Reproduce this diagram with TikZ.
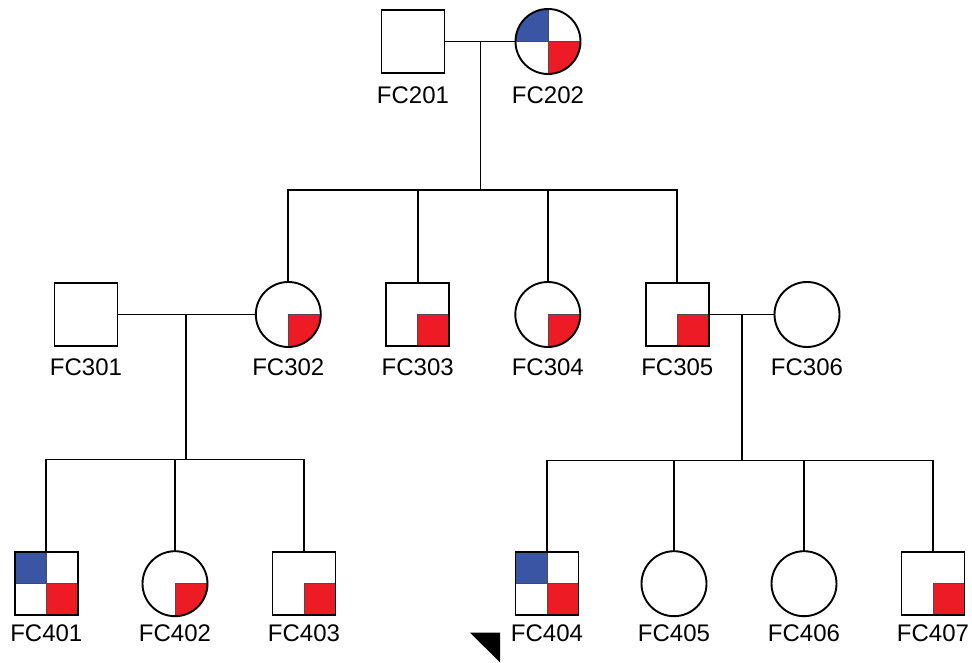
\documentclass[tikz,border=0pt]{standalone}
\usepackage{fontspec}
\setmainfont{Liberation Sans}
\definecolor{qblue}{HTML}{3A55A4}
\definecolor{qred}{HTML}{ED1C24}
\begin{document}
\begin{tikzpicture}[x=1pt,y=1pt,
  lw/.style={line width=1.9pt},
  person/.style={draw, lw, inner sep=0pt, outer sep=0pt, fill=white},
  male/.style={person, rectangle, minimum size=63pt},
  female/.style={person, circle, minimum size=65pt},
  lr/.style={path picture={\filldraw[fill=qred, draw=black!70, line width=0.6pt]
      (path picture bounding box.center) rectangle (path picture bounding box.south east);}},
  lrul/.style={path picture={
      \filldraw[fill=qred, draw=black!70, line width=0.6pt]
      (path picture bounding box.center) rectangle (path picture bounding box.south east);
      \filldraw[fill=qblue, draw=black!70, line width=0.6pt]
      (path picture bounding box.center) rectangle (path picture bounding box.north west);}},
  lbl/.style={anchor=base, font=\fontsize{24}{28}\selectfont, inner sep=0pt},
  conn/.style={lw}
]
\useasboundingbox (0,0) rectangle (972,663);

% generation I
\node[male]        (fc201) at (413,621.5) {};
\node[female,lrul] (fc202) at (548,621.5) {};
% generation II
\node[male]        (fc301) at (86,348.5) {};
\node[female,lr]   (fc302) at (288.3,348.5) {};
\node[male,lr]     (fc303) at (417.7,348.5) {};
\node[female,lr]   (fc304) at (547.8,348.5) {};
\node[male,lr]     (fc305) at (677.3,348.5) {};
\node[female]      (fc306) at (807,348.5) {};
% generation III
\node[male,lrul]   (fc401) at (46.3,79.3) {};
\node[female,lr]   (fc402) at (175,79.3) {};
\node[male,lr]     (fc403) at (304,79.3) {};
\node[male,lrul]   (fc404) at (547,79.3) {};
\node[female]      (fc405) at (674,79.3) {};
\node[female]      (fc406) at (804,79.3) {};
\node[male,lr]     (fc407) at (933,79.3) {};

% labels
\foreach \n/\t in {fc201/FC201,fc202/FC202}
  \node[lbl] (l\n) at (\n.center |- 0,559) {\t};
\foreach \n/\t in {fc301/FC301,fc302/FC302,fc303/FC303,fc304/FC304,fc305/FC305,fc306/FC306}
  \node[lbl] (l\n) at (\n.center |- 0,287) {\t};
\foreach \n/\t in {fc401/FC401,fc402/FC402,fc403/FC403,fc404/FC404,fc405/FC405,fc406/FC406,fc407/FC407}
  \node[lbl] (l\n) at (\n.center |- 0,21.3) {\t};

% family of FC201 x FC202
\coordinate (m1) at (480.5,621.5);
\coordinate (s1) at (480.5,473);
\draw[conn] (fc201.east) -- (fc202.west);
\draw[conn] (m1) -- (s1);
\draw[conn] (fc302.north) -- (fc302.north |- s1) -- (fc305.north |- s1) -- (fc305.north);
\draw[conn] (fc303.north) -- (fc303.north |- s1);
\draw[conn] (fc304.north) -- (fc304.north |- s1);

% family of FC301 x FC302
\coordinate (m2) at (186,348.5);
\coordinate (s2) at (186,203.5);
\draw[conn] (fc301.east) -- (fc302.west);
\draw[conn] (m2) -- (s2);
\draw[conn] (fc401.north) -- (fc401.north |- s2) -- (fc403.north |- s2) -- (fc403.north);
\draw[conn] (fc402.north) -- (fc402.north |- s2);

% family of FC305 x FC306
\coordinate (m3) at (741.7,348.5);
\coordinate (s3) at (741.7,202.5);
\draw[conn] (fc305.east) -- (fc306.west);
\draw[conn] (m3) -- (s3);
\draw[conn] (fc404.north) -- (fc404.north |- s3) -- (fc407.north |- s3) -- (fc407.north);
\draw[conn] (fc405.north) -- (fc405.north |- s3);
\draw[conn] (fc406.north) -- (fc406.north |- s3);

% proband arrow
\coordinate (p1) at (470,30.3);
\coordinate (p2) at (500,30.3);
\coordinate (p3) at (500,0.7);
\fill (p1) -- (p2) -- (p3) -- cycle;
\end{tikzpicture}
\end{document}
